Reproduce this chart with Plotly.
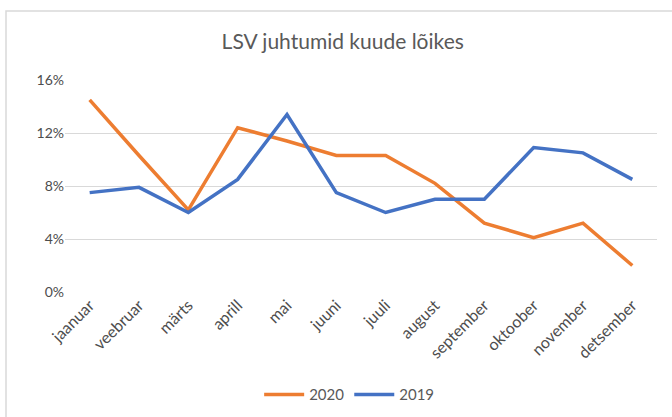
import plotly.graph_objects as go

months = ["jaanuar", "veebruar", "märts", "aprill", "mai", "juuni", "juuli",
          "august", "september", "oktoober", "november", "detsember"]
y2020 = [0.145, 0.103, 0.062, 0.124, 0.114, 0.103, 0.103, 0.082, 0.052, 0.041, 0.052, 0.020]
y2019 = [0.075, 0.079, 0.060, 0.085, 0.134, 0.075, 0.060, 0.070, 0.070, 0.109, 0.105, 0.085]
yticks = [0, 0.04, 0.08, 0.12, 0.16]
ytick_text = ["0%", "4%", "8%", "12%", "16%"]

FONT = "Lato, 'Open Sans', sans-serif"
GREY = "#595959"

fig = go.Figure()
fig.add_trace(go.Scatter(x=months, y=y2020, name="2020", mode="lines",
                         line=dict(color="#ED7D31", width=3.5)))
fig.add_trace(go.Scatter(x=months, y=y2019, name="2019", mode="lines",
                         line=dict(color="#4472C4", width=3.5)))

fig.update_layout(
    width=672, height=417,
    margin=dict(l=65, r=15, t=80, b=125, autoexpand=False),
    paper_bgcolor="white", plot_bgcolor="white",
    title=dict(text="LSV juhtumid kuude lõikes", x=0.51, xanchor="center",
               y=1 - 42 / 417, yanchor="middle",
               font=dict(family=FONT, size=21, color=GREY)),
    font=dict(family=FONT, size=14, color=GREY),
    xaxis=dict(range=[-0.5, 11.5], tickangle=-45, showgrid=False, automargin=False,
               showline=False, ticks="", tickfont=dict(size=16, color="#4d4d4d")),
    yaxis=dict(range=[0, 0.16], tickvals=yticks, ticktext=ytick_text, automargin=False,
               showgrid=True, gridcolor="#D9D9D9", gridwidth=1,
               zeroline=False, showline=False, ticks="",
               tickfont=dict(size=14, color="#4d4d4d")),
    legend=dict(orientation="h", x=0.48, xanchor="center", y=-0.485, yanchor="middle",
                font=dict(size=15, color=GREY), itemwidth=40),
    showlegend=True,
)

fig.add_shape(type="rect", xref="paper", yref="paper",
              x0=(6 - 65) / 592, x1=(685 - 65) / 592,
              y0=(292 - 430) / 212, y1=(292 - 11) / 212,
              line=dict(color="#D9D9D9", width=1.5), fillcolor="rgba(0,0,0,0)",
              layer="below")

fig.write_html("out.html", config={"displayModeBar": False},
               post_script="document.body.style.margin='0';document.body.style.overflow='hidden';")
